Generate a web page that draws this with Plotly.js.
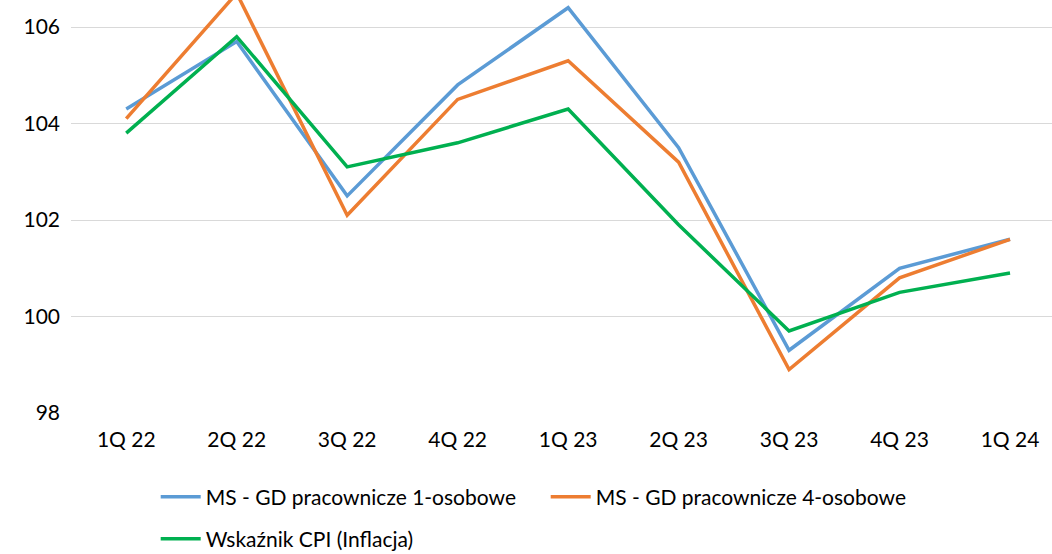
<!DOCTYPE html><html><head><script src="https://cdn.plot.ly/plotly-3.0.1.min.js"></script></head><body style="margin:0"><div id="c" style="width:1052px;height:554px"></div><script>
const categories=["1Q 22","2Q 22","3Q 22","4Q 22","1Q 23","2Q 23","3Q 23","4Q 23","1Q 24"];
const ms1=[104.3,105.7,102.5,104.8,106.4,103.5,99.3,101.0,101.6];
const ms4=[104.1,106.7,102.1,104.5,105.3,103.2,98.9,100.8,101.6];
const cpi=[103.8,105.8,103.1,103.6,104.3,101.9,99.7,100.5,100.9];
const names=["MS - GD pracownicze 1-osobowe","MS - GD pracownicze 4-osobowe","Wskaźnik CPI (Inflacja)"];
const colors=["#5B9BD5","#ED7D31","#00B050"];
const data=[ms1,ms4,cpi].map((v,i)=>({x:categories,y:v,name:names[i],type:'scatter',mode:'lines',line:{color:colors[i],width:3.5},legend:i<2?'legend':'legend2'}));
const lg={orientation:'h',xref:'container',yref:'container',xanchor:'left',yanchor:'middle',entrywidth:335,entrywidthmode:'pixels',itemwidth:40,font:{size:21}};
Plotly.newPlot('c',data,{width:1052,height:554,margin:{l:71,r:0,t:0,b:141},
font:{family:"Lato, sans-serif",size:21,color:"#000"},
paper_bgcolor:"#fff",plot_bgcolor:"#fff",
xaxis:{type:'category',range:[-0.5,8.38],showgrid:false,showline:false,zeroline:false,ticks:'',tickfont:{size:21},ticklabelstandoff:12},
yaxis:{range:[98,106.56],dtick:2,gridcolor:"#d9d9d9",gridwidth:1,zeroline:false,showline:false,ticks:'',tickfont:{size:21},ticklabelstandoff:10},
legend:Object.assign({},lg,{x:0.148,y:1-497/554}),
legend2:Object.assign({},lg,{x:0.148,y:1-539/554}),
showlegend:true},{displayModeBar:false});
</script></body></html>
